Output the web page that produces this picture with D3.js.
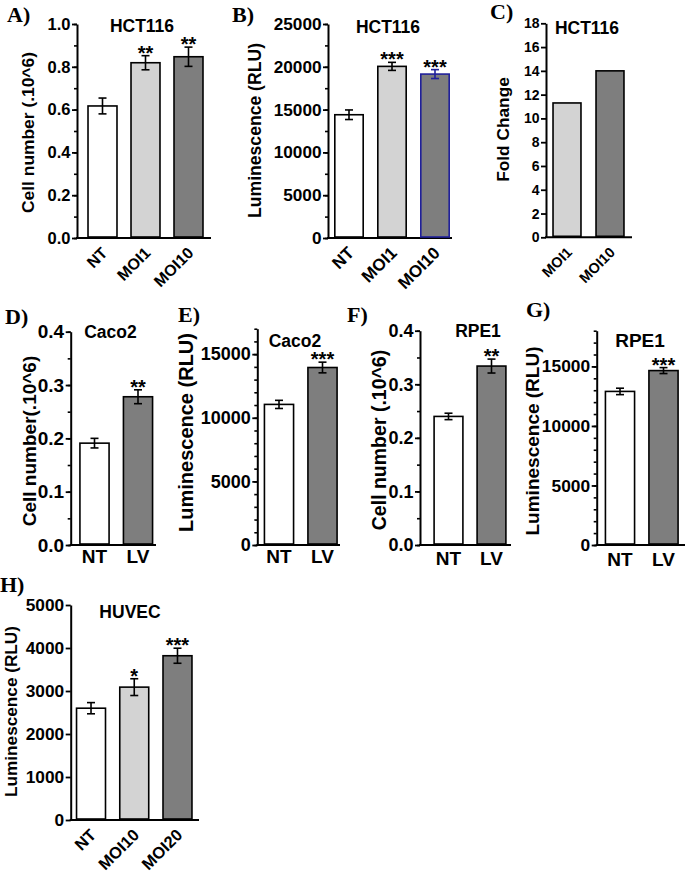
<!DOCTYPE html>
<html><head><meta charset="utf-8">
<script src="https://cdn.jsdelivr.net/npm/d3@7"></script>
<style>body{margin:0;background:#fff} svg{display:block}</style>
</head><body>
<svg id="c" width="685" height="872"></svg>
<script>
// ---------- data ----------
const catsA = ["NT", "MOI1", "MOI10"];
const valsA = [0.617, 0.819, 0.847];
const errA = [0.037, 0.033, 0.045];
const sigA = ["", "**", "**"];
const ticksA = [0, 0.2, 0.4, 0.6, 0.8, 1.0];

const catsB = ["NT", "MOI1", "MOI10"];
const valsB = [14400, 20050, 19150];
const errB = [560, 470, 520];
const sigB = ["", "***", "***"];
const ticksB = [0, 5000, 10000, 15000, 20000, 25000];

const catsC = ["MOI1", "MOI10"];
const valsC = [11.3, 14.0];
const ticksC = [0, 2, 4, 6, 8, 10, 12, 14, 16, 18];

const catsD = ["NT", "LV"];
const valsD = [0.191, 0.278];
const errD = [0.009, 0.013];
const sigD = ["", "**"];
const ticksD = [0, 0.1, 0.2, 0.3, 0.4];

const catsE = ["NT", "LV"];
const valsE = [11050, 13950];
const errE = [320, 420];
const sigE = ["", "***"];
const ticksE = [0, 5000, 10000, 15000];

const catsF = ["NT", "LV"];
const valsF = [0.240, 0.334];
const errF = [0.006, 0.013];
const sigF = ["", "**"];
const ticksF = [0, 0.1, 0.2, 0.3, 0.4];

const catsG = ["NT", "LV"];
const valsG = [12900, 14650];
const errG = [270, 250];
const sigG = ["", "***"];
const ticksG = [0, 5000, 10000, 15000];

const catsH = ["NT", "MOI10", "MOI20"];
const valsH = [2600, 3090, 3820];
const errH = [130, 195, 175];
const sigH = ["", "*", "***"];
const ticksH = [0, 1000, 2000, 3000, 4000, 5000];

// ---------- styles ----------
const WHITE = "#ffffff", LIGHT = "#d3d3d3", DARK = "#7e7e7e", BLUE = "#20209a";
const SANS = "'Liberation Sans', Arial, sans-serif";
const SERIF = "'Liberation Serif', 'Times New Roman', serif";

const svg = d3.select("#c");

function panel(p) {
  const g = svg.append("g");
  const y = d3.scaleLinear().domain([0, p.yMax]).range([p.yBottom, p.yTop]);
  const x = d3.scaleBand().domain(p.cats).range(p.xRange).paddingInner(p.pad).paddingOuter(p.pad / 2);

  // minor ticks
  if (p.minor) {
    const mg = g.append("g").attr("transform", `translate(${p.axisX},0)`)
      .call(d3.axisLeft(y).tickValues(d3.range(0, p.yMax + 1e-9, p.minor)).tickSize(3).tickFormat(""));
    mg.select(".domain").remove();
    mg.selectAll("line").attr("stroke", "#000").attr("stroke-width", 1.6);
  }
  // major axis
  const ag = g.append("g").attr("transform", `translate(${p.axisX},0)`)
    .call(d3.axisLeft(y).tickValues(p.ticks).tickSize(p.tickLen || 5).tickSizeOuter(0)
      .tickPadding(p.tickPad || 1.5).tickFormat(d3.format(p.fmt)));
  ag.select(".domain").attr("stroke", "#000").attr("stroke-width", 2);
  ag.selectAll(".tick line").attr("stroke", "#000").attr("stroke-width", 1.8);
  ag.selectAll(".tick text").attr("font-family", SANS).attr("font-weight", "bold")
    .attr("font-size", p.tickSize).attr("fill", "#000");

  // x axis line
  g.append("line").attr("x1", p.axisX - 1).attr("x2", p.xEnd)
    .attr("y1", p.yBottom).attr("y2", p.yBottom).attr("stroke", "#000").attr("stroke-width", 2);

  // bars
  g.selectAll("rect.bar").data(p.vals).enter().append("rect")
    .attr("x", (d, i) => x(p.cats[i])).attr("width", x.bandwidth())
    .attr("y", d => y(d)).attr("height", d => p.yBottom - 1 - y(d))
    .attr("fill", (d, i) => p.fills[i]).attr("stroke", (d, i) => (p.strokes ? p.strokes[i] : "#000"))
    .attr("stroke-width", 1.6);

  // error bars
  if (p.err) {
    p.vals.forEach((v, i) => {
      const cx = x(p.cats[i]) + x.bandwidth() / 2;
      const col = p.strokes ? p.strokes[i] : "#000";
      const e = p.err[i];
      const eg = g.append("g").attr("stroke", col).attr("stroke-width", 1.6);
      eg.append("line").attr("x1", cx).attr("x2", cx).attr("y1", y(v - e)).attr("y2", y(v + e));
      eg.append("line").attr("x1", cx - 4).attr("x2", cx + 4).attr("y1", y(v - e)).attr("y2", y(v - e));
      eg.append("line").attr("x1", cx - 4).attr("x2", cx + 4).attr("y1", y(v + e)).attr("y2", y(v + e));
      if (p.sig && p.sig[i]) {
        g.append("text").attr("x", cx).attr("y", y(v + e) + 4)
          .attr("text-anchor", "middle").attr("font-family", SANS).attr("font-weight", "bold")
          .attr("font-size", 20).text(p.sig[i]);
      }
    });
  }

  // x labels
  p.cats.forEach((c, i) => {
    const cx = x(c) + x.bandwidth() / 2;
    const t = g.append("text").attr("font-family", SANS).attr("font-weight", "bold")
      .attr("font-size", p.xlabSize).text(c);
    if (p.rot) {
      t.attr("text-anchor", "end")
        .attr("transform", `translate(${cx + 6},${p.yBottom + 16}) rotate(-45)`);
    } else {
      t.attr("text-anchor", "middle").attr("x", cx).attr("y", p.xlabY);
    }
  });

  // title
  g.append("text").attr("x", p.titleX).attr("y", p.titleY).attr("text-anchor", "middle")
    .attr("font-family", SANS).attr("font-weight", "bold").attr("font-size", p.titleSize || 17.5)
    .text(p.title);
  // y label
  g.append("text").attr("transform", `translate(${p.ylabX},${p.ylabY}) rotate(-90)`)
    .attr("text-anchor", "middle").attr("font-family", SANS).attr("font-weight", "bold")
    .attr("font-size", p.ylabSize).text(p.ylab);
  // panel letter
  g.append("text").attr("x", p.letterX).attr("y", p.letterY)
    .attr("font-family", SERIF).attr("font-weight", "bold").attr("font-size", 22).text(p.letter);
}

panel({cats: catsA, vals: valsA, err: errA, sig: sigA, ticks: ticksA, fmt: ".1f", yMax: 1.0, minor: 0.1,
  axisX: 77, yTop: 24, yBottom: 238, xEnd: 211, xRange: [81, 210], pad: 0.326,
  fills: [WHITE, LIGHT, DARK], tickSize: 16.5, rot: true, xlabSize: 16,
  title: "HCT116", titleX: 142, titleY: 31.5, letter: "A)", letterX: 7, letterY: 22,
  ylab: "Cell number (.10^6)", ylabX: 34, ylabY: 132.5, ylabSize: 17.4});

panel({cats: catsB, vals: valsB, err: errB, sig: sigB, ticks: ticksB, fmt: "d", yMax: 25000, minor: 2500,
  axisX: 328, yTop: 24, yBottom: 238, xEnd: 452, xRange: [327.5, 456.5], pad: 0.34,
  fills: [WHITE, LIGHT, DARK], strokes: ["#000", "#000", BLUE], tickSize: 17.2, rot: true, xlabSize: 17,
  title: "HCT116", titleX: 388, titleY: 33, letter: "B)", letterX: 232, letterY: 22,
  ylab: "Luminescence (RLU)", ylabX: 261, ylabY: 130.5, ylabSize: 17.6});

panel({cats: catsC, vals: valsC, ticks: ticksC, fmt: "d", yMax: 18,
  axisX: 546, yTop: 23.3, yBottom: 237.3, xEnd: 632, xRange: [545.5, 631.5], pad: 0.35,
  fills: [LIGHT, DARK], tickSize: 14, rot: true, xlabSize: 14.5,
  title: "HCT116", titleX: 587, titleY: 34, letter: "C)", letterX: 490, letterY: 19,
  ylab: "Fold Change", ylabX: 509, ylabY: 129.5, ylabSize: 17.3});

panel({cats: catsD, vals: valsD, err: errD, sig: sigD, ticks: ticksD, fmt: ".1f", yMax: 0.4, minor: 0.05,
  axisX: 70.7, yTop: 331.7, yBottom: 545, xEnd: 156, xRange: [72.75, 159.75], pad: 0.33,
  fills: [WHITE, DARK], tickSize: 19, xlabSize: 19, xlabY: 563,
  title: "Caco2", titleX: 110.5, titleY: 338, letter: "D)", letterX: 5, letterY: 324,
  ylab: "Cell number(.10^6)", ylabX: 36, ylabY: 441, ylabSize: 19});

panel({cats: catsE, vals: valsE, err: errE, sig: sigE, ticks: ticksE, fmt: "d", yMax: 17000, minor: 1000,
  axisX: 257.3, yTop: 328.7, yBottom: 545, xEnd: 340, xRange: [257.25, 344.25], pad: 0.33,
  fills: [WHITE, DARK], tickSize: 18, xlabSize: 19, xlabY: 563,
  title: "Caco2", titleX: 295, titleY: 347, letter: "E)", letterX: 178, letterY: 322,
  ylab: "Luminescence (RLU)", ylabX: 192.6, ylabY: 432.5, ylabSize: 20});

panel({cats: catsF, vals: valsF, err: errF, sig: sigF, ticks: ticksF, fmt: ".1f", yMax: 0.4, minor: 0.05,
  axisX: 420, yTop: 330.7, yBottom: 545, xEnd: 511, xRange: [427, 513], pad: 0.33,
  fills: [WHITE, DARK], tickSize: 18, xlabSize: 19, xlabY: 565,
  title: "RPE1", titleX: 478, titleY: 337, letter: "F)", letterX: 347, letterY: 322,
  ylab: "Cell number (.10^6)", ylabX: 385.7, ylabY: 440, ylabSize: 19.5});

panel({cats: catsG, vals: valsG, err: errG, sig: sigG, ticks: ticksG, fmt: "d", yMax: 18000, minor: 1000,
  axisX: 596.7, yTop: 330.7, yBottom: 545, xEnd: 685, xRange: [598.25, 685.25], pad: 0.33,
  fills: [WHITE, DARK], tickSize: 17.4, xlabSize: 19, xlabY: 566,
  title: "RPE1", titleX: 640, titleY: 347, titleSize: 19, letter: "G)", letterX: 526, letterY: 317,
  ylab: "Luminescence (RLU)", ylabX: 538.6, ylabY: 441, ylabSize: 19});

panel({cats: catsH, vals: valsH, err: errH, sig: sigH, ticks: ticksH, fmt: "d", yMax: 5000,
  axisX: 70.7, yTop: 605, yBottom: 820, xEnd: 199, xRange: [69.4, 199.1], pad: 0.33,
  fills: [WHITE, LIGHT, DARK], tickSize: 17.3, rot: true, xlabSize: 16.5,
  title: "HUVEC", titleX: 130, titleY: 618, letter: "H)", letterX: 0, letterY: 592,
  ylab: "Luminescence (RLU)", ylabX: 17, ylabY: 711.5, ylabSize: 17.2});
</script>
</body></html>
